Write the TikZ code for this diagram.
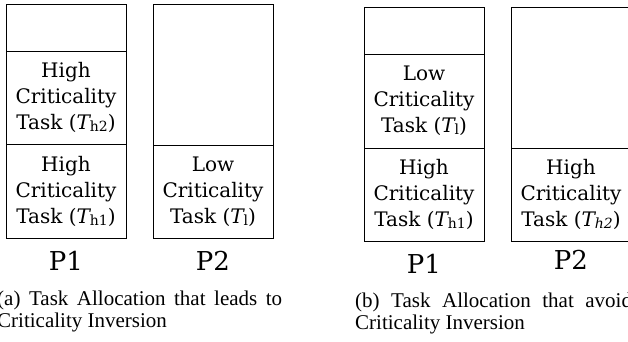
\documentclass[tikz,border=0pt]{standalone}
\usepackage{fontspec}
\setmainfont{Liberation Serif}
\newfontfamily\cellfont{DejaVu Serif}
\usetikzlibrary{positioning}
\hyphenpenalty=10000
\tikzset{
cell/.style = {draw, fill=white, rectangle, minimum width=120pt, inner sep=0pt, outer sep=0pt, align=center, font=\cellfont\fontsize{20}{26}\selectfont},
proc/.style = {inner sep=0pt, font=\cellfont\fontsize{26}{30}\selectfont},
capt/.style = {text width=285pt, align=justify, anchor=north west, inner sep=0pt, font=\fontsize{21}{22}\selectfont}
}
\newcommand{\tsk}[1]{{\itshape T}\raisebox{-0.2ex}{\fontsize{14}{14}\selectfont #1}}

\begin{document}
\begin{tikzpicture}[x=1pt, y=-1pt, node distance=13pt]
    \useasboundingbox (0,0) rectangle (628,341);
    % (a) leads to inversion
    \node [cell, minimum height=47pt, anchor=north west] (a1top) at (6,4) {};
    \node [cell, minimum height=93pt, below=0pt of a1top] (a1h2) {High\\Criticality\\Task (\tsk{h2})};
    \node [cell, minimum height=94pt, below=0pt of a1h2] (a1h1) {High\\Criticality\\Task (\tsk{h1})};
    \node [cell, minimum height=141pt, anchor=north west] (a2top) at (153,4) {};
    \node [cell, minimum height=93pt, below=0pt of a2top] (a2l) {Low\\Criticality\\Task (\tsk{l})};
    \node [proc, below=of a1h1] (a1lab) {P1};
    \node [proc, below=of a2l] (a2lab) {P2};
    \node [capt] (capa) at (-3,291) {(a) Task Allocation that leads to Criticality Inversion};

    % (b) avoids inversion
    \node [cell, minimum height=47pt, anchor=north west] (b1top) at (364,7) {};
    \node [cell, minimum height=94pt, below=0pt of b1top] (b1l) {Low\\Criticality\\Task (\tsk{l})};
    \node [cell, minimum height=93pt, below=0pt of b1l] (b1h1) {High\\Criticality\\Task (\tsk{h1})};
    \node [cell, minimum height=141pt, anchor=north west] (b2top) at (511,7) {};
    \node [cell, minimum height=93pt, below=0pt of b2top] (b2h2) {High\\Criticality\\Task (\tsk{\itshape h2})};
    \node [proc, below=of b1h1] (b1lab) {P1};
    \node [proc, below=9pt of b2h2] (b2lab) {P2};
    \node [capt] (capb) at (355,293) {(b) Task Allocation that avoids Criticality Inversion};
\end{tikzpicture}
\end{document}
